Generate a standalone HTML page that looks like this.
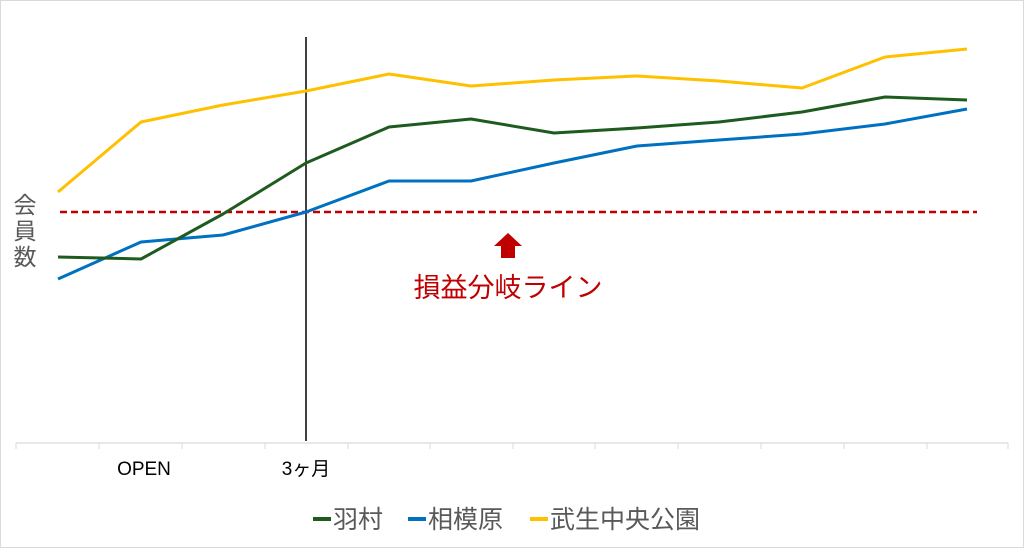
<!DOCTYPE html>
<html><head><meta charset="utf-8"><style>
html,body{margin:0;padding:0;background:#fff;}
svg{display:block;}
text{font-family:"Liberation Sans","Noto Sans CJK JP",sans-serif;}
</style></head><body>
<svg width="1024" height="548" viewBox="0 0 1024 548" xmlns="http://www.w3.org/2000/svg">
<rect x="0.5" y="0.5" width="1023" height="547" fill="#fff" stroke="#d9d9d9"/>
<line x1="16" y1="443" x2="1008" y2="443" stroke="#d9d9d9" stroke-width="1.2"/>
<g stroke="#d9d9d9" stroke-width="1">
<line x1="16" y1="443" x2="16" y2="449"/><line x1="99" y1="443" x2="99" y2="449"/>
<line x1="182" y1="443" x2="182" y2="449"/><line x1="265" y1="443" x2="265" y2="449"/>
<line x1="348" y1="443" x2="348" y2="449"/><line x1="430" y1="443" x2="430" y2="449"/>
<line x1="513" y1="443" x2="513" y2="449"/><line x1="595" y1="443" x2="595" y2="449"/>
<line x1="678" y1="443" x2="678" y2="449"/><line x1="761" y1="443" x2="761" y2="449"/>
<line x1="844" y1="443" x2="844" y2="449"/><line x1="927" y1="443" x2="927" y2="449"/>
<line x1="1008" y1="443" x2="1008" y2="449"/>
</g>
<line x1="306" y1="37" x2="306" y2="441" stroke="#000" stroke-width="1.5"/>
<line x1="60" y1="212" x2="977" y2="212" stroke="#c00000" stroke-width="2.5" stroke-dasharray="7,4"/>
<polyline fill="none" stroke="#ffc000" stroke-width="3" stroke-linejoin="round" points="58,192 141,122 223,105 306,91 389,74 471,86 554,80 637,76 719,81 802,88 885,57 967,49"/>
<polyline fill="none" stroke="#0070c0" stroke-width="3" stroke-linejoin="round" points="58,279 141,242 223,235 306,212 389,181 471,181 554,163 637,146 719,140 802,134 885,124 967,109"/>
<polyline fill="none" stroke="#1e5b1e" stroke-width="3" stroke-linejoin="round" points="58,257 141,259 223,214 306,163 389,127 471,119 554,133 637,128 719,122 802,112 885,97 967,100"/>
<polygon points="508,233 522,246 515,246 515,258 501,258 501,246 494,246" fill="#c00000"/>
<text x="508" y="297" font-size="27" fill="#c00000" text-anchor="middle">損益分岐ライン</text>
<text x="25" y="213" font-size="23" fill="#595959" text-anchor="middle">会</text>
<text x="25" y="239" font-size="23" fill="#595959" text-anchor="middle">員</text>
<text x="25" y="265" font-size="23" fill="#595959" text-anchor="middle">数</text>
<text x="144" y="475" font-size="19" fill="#000" text-anchor="middle">OPEN</text>
<text x="306" y="475" font-size="19" fill="#000" text-anchor="middle">3ヶ月</text>
<line x1="313" y1="519" x2="331" y2="519" stroke="#1e5b1e" stroke-width="4"/>
<text x="333" y="528" font-size="25" fill="#595959">羽村</text>
<line x1="408" y1="519" x2="426" y2="519" stroke="#0070c0" stroke-width="4"/>
<text x="428" y="528" font-size="25" fill="#595959">相模原</text>
<line x1="530" y1="519" x2="548" y2="519" stroke="#ffc000" stroke-width="4"/>
<text x="550" y="528" font-size="25" fill="#595959">武生中央公園</text>
</svg>
</body></html>
